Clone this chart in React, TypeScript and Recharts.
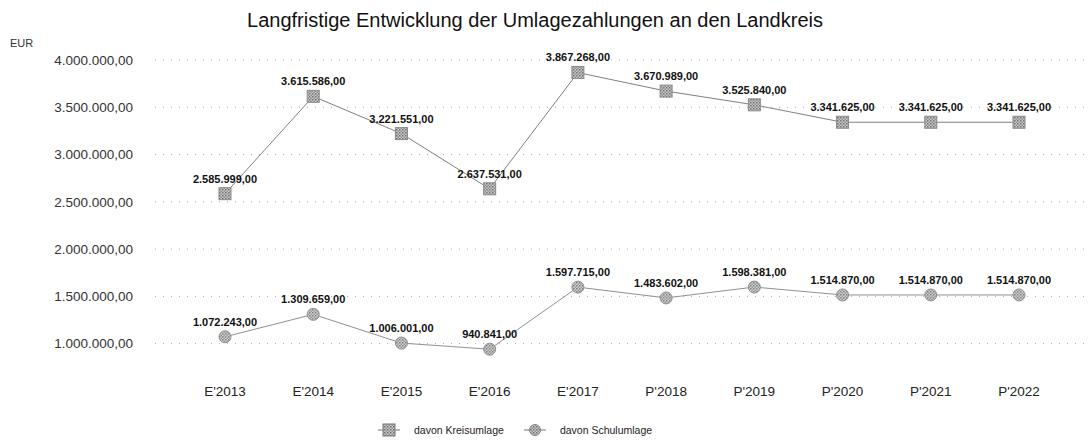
import React from 'react';
import { LineChart, Line, XAxis, YAxis, CartesianGrid, LabelList } from 'recharts';

// categories and values
const years = ["E'2013", "E'2014", "E'2015", "E'2016", "E'2017", "P'2018", "P'2019", "P'2020", "P'2021", "P'2022"];
const kreisumlage = [2585999, 3615586, 3221551, 2637531, 3867268, 3670989, 3525840, 3341625, 3341625, 3341625];
const schulumlage = [1072243, 1309659, 1006001, 940841, 1597715, 1483602, 1598381, 1514870, 1514870, 1514870];
const yTicks = [1000000, 1500000, 2000000, 2500000, 3000000, 3500000, 4000000];

const data = years.map((year, i) => ({
  year,
  kreis: kreisumlage[i],
  schul: schulumlage[i],
}));

const FONT = '"Liberation Sans", Arial, sans-serif';

// German number format: 3.615.586,00
const fmt = (v: number) =>
  v.toLocaleString('de-DE', { minimumFractionDigits: 2, maximumFractionDigits: 2 });

const SquareDot = (props: any) => {
  const { cx, cy, index } = props;
  if (cx == null || cy == null) return null;
  return (
    <g key={`sq-${index}`}>
      <rect x={cx - 6} y={cy - 6} width={12} height={12} fill="url(#hatchSq)" stroke="#8a8a8a" strokeWidth={1} />
    </g>
  );
};

const CircleDot = (props: any) => {
  const { cx, cy, index } = props;
  if (cx == null || cy == null) return null;
  return (
    <g key={`ci-${index}`}>
      <circle cx={cx} cy={cy} r={6} fill="url(#hatchCi)" stroke="#909090" strokeWidth={1} />
    </g>
  );
};

const ValueLabel = (props: any) => {
  const { x, y, value } = props;
  return (
    <text x={x} y={y - 14} textAnchor="middle" dominantBaseline="middle"
      fontFamily={FONT} fontSize={11} fontWeight="bold" fill="#111">
      {fmt(value)}
    </text>
  );
};

// legend drawn as plain html under the chart
const LegendBox = () => (
  <div style={{ position: 'absolute', left: 378, top: 423, display: 'flex', alignItems: 'center', fontFamily: FONT, fontSize: 10.5, color: '#222' }}>
    <svg width={22} height={14} style={{ marginRight: 14 }}>
      <line x1={0} y1={7} x2={22} y2={7} stroke="#777" strokeWidth={1} />
      <rect x={5} y={1} width={12} height={12} fill="url(#hatchSqL)" stroke="#777" />
      <defs>
        <pattern id="hatchSqL" width={3} height={3} patternUnits="userSpaceOnUse">
          <rect width={3} height={3} fill="#c8c8c8" />
          <rect width={1.5} height={1.5} fill="#707070" />
          <rect x={1.5} y={1.5} width={1.5} height={1.5} fill="#909090" />
        </pattern>
      </defs>
    </svg>
    <span style={{ marginRight: 20 }}>davon Kreisumlage</span>
    <svg width={22} height={14} style={{ marginRight: 14 }}>
      <line x1={0} y1={7} x2={22} y2={7} stroke="#777" strokeWidth={1} />
      <circle cx={11} cy={7} r={5.5} fill="url(#hatchSqL)" stroke="#888" />
    </svg>
    <span>davon Schulumlage</span>
  </div>
);

export default function App() {
  return (
    <div style={{ position: 'absolute', left: 0, top: 0, width: 1089, height: 443, background: '#fff' }}>
      <div style={{ position: 'absolute', left: 0, top: 9, width: 1070, textAlign: 'center', fontFamily: FONT, fontSize: 20, color: '#111' }}>
        Langfristige Entwicklung der Umlagezahlungen an den Landkreis
      </div>
      <div style={{ position: 'absolute', left: 10, top: 37, fontFamily: FONT, fontSize: 11, color: '#333' }}>EUR</div>
      <LineChart width={1089} height={443} data={data} margin={{ top: 60, right: 4, left: 0, bottom: 41 }}>
        <defs>
          <pattern id="hatchSq" width={3} height={3} patternUnits="userSpaceOnUse">
            <rect width={3} height={3} fill="#c8c8c8" />
            <rect width={1.5} height={1.5} fill="#707070" />
            <rect x={1.5} y={1.5} width={1.5} height={1.5} fill="#909090" />
          </pattern>
          <pattern id="hatchCi" width={3} height={3} patternUnits="userSpaceOnUse">
            <rect width={3} height={3} fill="#cfcfcf" />
            <rect width={1.5} height={1.5} fill="#808080" />
            <rect x={1.5} y={1.5} width={1.5} height={1.5} fill="#9a9a9a" />
          </pattern>
        </defs>
        <CartesianGrid vertical={false} horizontalValues={yTicks} stroke="#a8a8a8" strokeDasharray="1 7" />
        <XAxis dataKey="year" axisLine={false} tickLine={false} tickSize={0} tickMargin={14}
          padding={{ left: 70, right: 66 }}
          tick={{ fontFamily: FONT, fontSize: 13.5, fill: '#222' }} />
        <YAxis domain={[700000, 4000000]} ticks={yTicks} width={155} axisLine={false} tickLine={false}
          tickSize={0} tickMargin={22} tickFormatter={fmt}
          tick={{ fontFamily: FONT, fontSize: 13.5, fill: '#333' }} />
        <Line dataKey="kreis" name="davon Kreisumlage" stroke="#808080" strokeWidth={1}
          dot={<SquareDot />} isAnimationActive={false}>
          <LabelList dataKey="kreis" content={<ValueLabel />} />
        </Line>
        <Line dataKey="schul" name="davon Schulumlage" stroke="#909090" strokeWidth={1}
          dot={<CircleDot />} isAnimationActive={false}>
          <LabelList dataKey="schul" content={<ValueLabel />} />
        </Line>
      </LineChart>
      <LegendBox />
    </div>
  );
}
